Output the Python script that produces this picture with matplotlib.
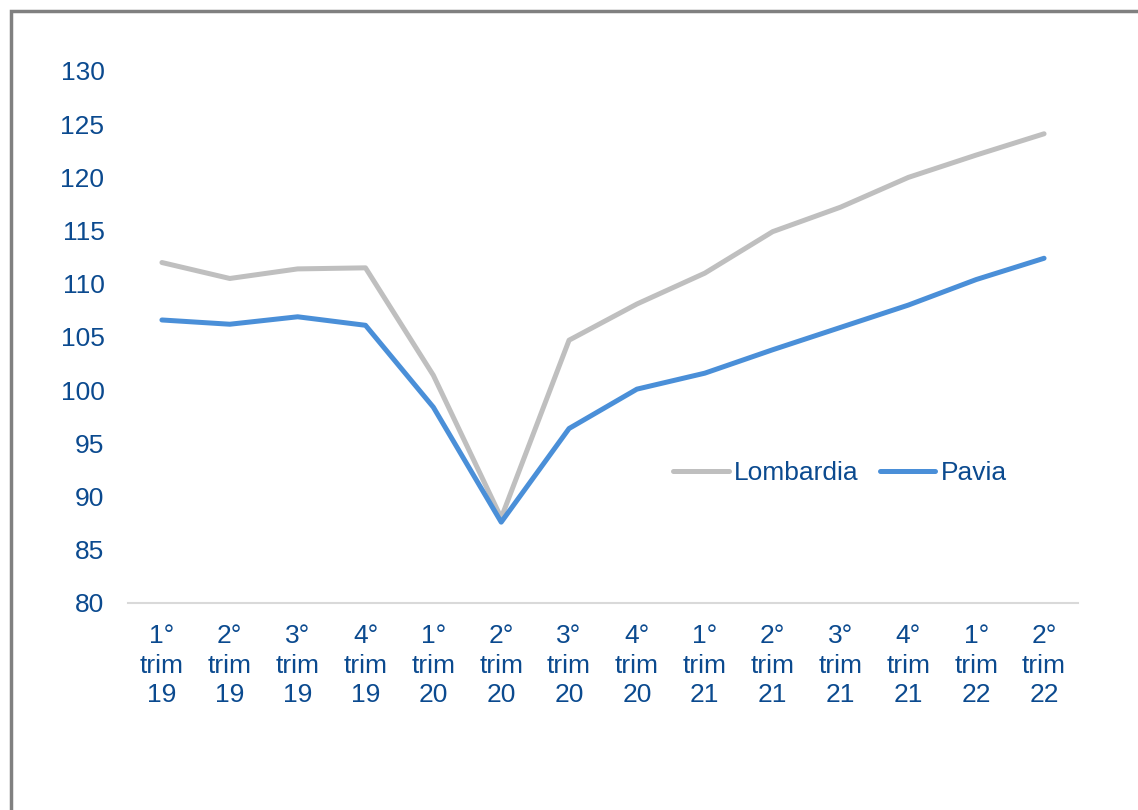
import matplotlib.pyplot as plt
from matplotlib.patches import Rectangle

plt.rcParams['font.family'] = ['Liberation Sans', 'DejaVu Sans']

# dati
trimestri = ['1°\ntrim\n19', '2°\ntrim\n19', '3°\ntrim\n19', '4°\ntrim\n19',
             '1°\ntrim\n20', '2°\ntrim\n20', '3°\ntrim\n20', '4°\ntrim\n20',
             '1°\ntrim\n21', '2°\ntrim\n21', '3°\ntrim\n21', '4°\ntrim\n21',
             '1°\ntrim\n22', '2°\ntrim\n22']
lombardia = [112.0, 110.5, 111.4, 111.5, 101.4, 88.0, 104.7, 108.1,
             111.0, 114.9, 117.2, 120.0, 122.1, 124.1]
pavia = [106.6, 106.2, 106.9, 106.1, 98.4, 87.6, 96.4, 100.1,
         101.6, 103.8, 105.9, 108.0, 110.4, 112.4]
y_ticks = [80, 85, 90, 95, 100, 105, 110, 115, 120, 125, 130]

txt_col = '#0b4a8f'

fig = plt.figure(figsize=(11.38, 8.1), dpi=100)
ax = fig.add_axes([128/1138, 207/810, 950/1138, 532/810])

x = range(len(trimestri))
ax.plot(x, lombardia, color='#bfbfbf', lw=3.6, label='Lombardia', solid_capstyle='round')
ax.plot(x, pavia, color='#4a8fd8', lw=3.6, label='Pavia', solid_capstyle='round')

ax.set_xlim(-0.5, len(trimestri) - 0.5)
ax.set_ylim(80, 130)
ax.set_yticks(y_ticks)
ax.set_yticklabels([str(v) for v in y_ticks])
ax.set_xticks(list(x))
ax.set_xticklabels(trimestri, linespacing=1.3)
ax.tick_params(axis='both', length=0, labelsize=19, labelcolor=txt_col)
ax.tick_params(axis='y', pad=17)
ax.tick_params(axis='x', pad=15)

for s in ['top', 'right', 'left']:
    ax.spines[s].set_visible(False)
ax.spines['bottom'].set_color('#d9d9d9')
ax.spines['bottom'].set_linewidth(1.5)

leg = ax.legend(loc='center', bbox_to_anchor=(840/1138, (810 - 473)/810), bbox_transform=fig.transFigure,
                ncol=2, frameon=False, fontsize=19, handlelength=2.1,
                handletextpad=0.2, columnspacing=0.8)
for t in leg.get_texts():
    t.set_color(txt_col)

# cornice esterna
fig.patches.append(Rectangle((11/1138, -0.1), 1.2, (810 - 11)/810 + 0.1,
                             transform=fig.transFigure, fill=False,
                             edgecolor='#808080', lw=2.5))

fig.savefig('out.png', dpi=100)
